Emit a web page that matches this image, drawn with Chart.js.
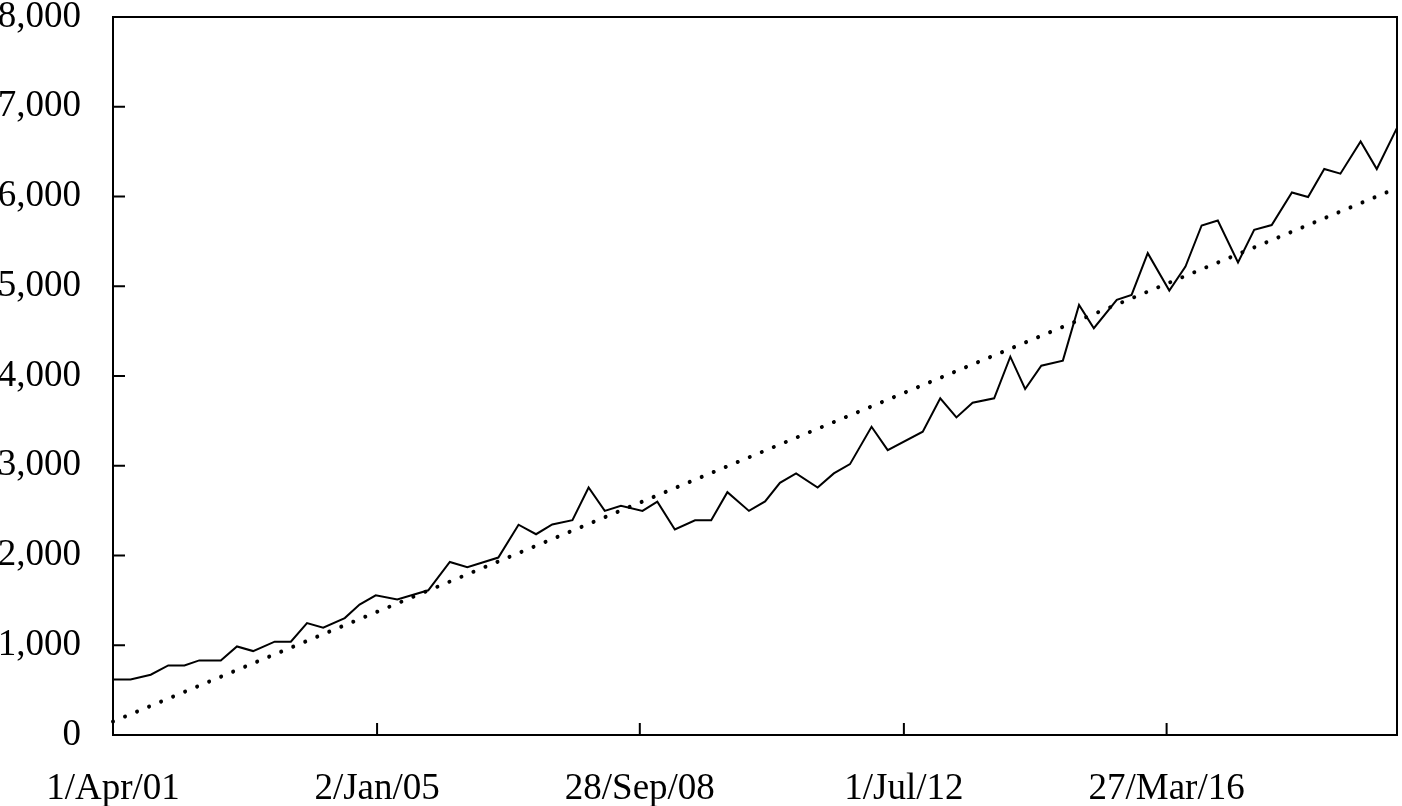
<!DOCTYPE html>
<html>
<head>
<meta charset="utf-8">
<script src="https://cdn.jsdelivr.net/npm/chart.js@4.4.1/dist/chart.umd.min.js"></script>
<style>
  body { margin: 0; background: #fff; }
  #chart { display: block; }
</style>
</head>
<body>
<canvas id="chart" width="1402" height="806"></canvas>
<script>
// x values are weeks after 1 Apr 2001
var weeks = [0, 13, 28, 41, 53, 64, 80, 92, 104, 120, 132, 144, 156, 172, 183, 195,
  211, 234, 250, 263, 286, 301, 314, 326, 341, 353, 365, 377, 393, 404, 417, 432,
  444, 456, 472, 484, 495, 507, 523, 535, 547, 563, 575, 601, 614, 626, 638, 654,
  666, 677, 689, 705, 717, 728, 745, 756, 768, 784, 796, 808, 820, 835, 847, 860,
  875, 887, 899, 911, 926, 938, 953];
var values = [619, 619, 672, 775, 775, 831, 831, 987, 935, 1040, 1040, 1247, 1196, 1303, 1453, 1557,
  1509, 1612, 1928, 1869, 1977, 2343, 2237, 2346, 2393, 2758, 2497, 2553, 2497, 2600, 2290, 2393,
  2393, 2706, 2497, 2602, 2810, 2915, 2758, 2915, 3018, 3434, 3174, 3379, 3751, 3539, 3702, 3751,
  4215, 3855, 4115, 4171, 4792, 4532, 4848, 4904, 5369, 4952, 5220, 5677, 5733, 5264, 5629, 5682,
  6045, 5994, 6306, 6254, 6614, 6306, 6764];

// linear trend, end points
var trendWeeks = [0, 953];
var trendValues = [150, 6094];

var tickWeeks = [0, 196, 391, 587, 782];
var tickLabels = ["1/Apr/01", "2/Jan/05", "28/Sep/08", "1/Jul/12", "27/Mar/16"];

function toPoints(xs, ys) {
  return xs.map(function (x, i) { return { x: x, y: ys[i] }; });
}

// box round the plot + inner tick marks
var frame = {
  id: 'frame',
  afterDraw: function (chart) {
    var ctx = chart.ctx, a = chart.chartArea;
    var sx = chart.scales.x, sy = chart.scales.y;
    ctx.save();
    ctx.strokeStyle = '#000';
    ctx.lineWidth = 2;
    ctx.strokeRect(a.left, a.top, a.right - a.left, a.bottom - a.top);
    ctx.beginPath();
    tickWeeks.forEach(function (w) {
      var px = sx.getPixelForValue(w);
      ctx.moveTo(px, a.bottom);
      ctx.lineTo(px, a.bottom - 12);
    });
    sy.ticks.forEach(function (t) {
      var py = sy.getPixelForValue(t.value);
      ctx.moveTo(a.left, py);
      ctx.lineTo(a.left + 12, py);
    });
    ctx.stroke();
    ctx.restore();
  }
};

var font = { family: '"Liberation Serif", serif', size: 37 };

var ctx = document.getElementById('chart').getContext('2d');
var chart = new Chart(ctx, {
  type: 'line',
  data: {
    datasets: [{
      data: toPoints(weeks, values),
      borderColor: '#000',
      borderWidth: 2,
      pointRadius: 0,
      tension: 0,
      clip: false
    }, {
      data: toPoints(trendWeeks, trendValues),
      borderColor: '#000',
      borderWidth: 4,
      borderDash: [0.01, 13],
      borderCapStyle: 'round',
      pointRadius: 0,
      clip: false
    }]
  },
  options: {
    responsive: false,
    animation: false,
    layout: { padding: { top: 17, right: 5 } },
    plugins: { legend: { display: false }, tooltip: { enabled: false } },
    scales: {
      x: {
        type: 'linear',
        min: 0,
        max: 953,
        grid: { display: false, drawTicks: false },
        border: { display: false },
        afterBuildTicks: function (s) {
          s.ticks = tickWeeks.map(function (v) { return { value: v }; });
        },
        afterFit: function (s) {
          s.height = 71;
          s.paddingLeft = 0;
          s.paddingRight = 0;
        },
        ticks: {
          autoSkip: false,
          maxRotation: 0,
          padding: 32,
          color: '#000',
          font: font,
          callback: function (v, i) { return tickLabels[i]; }
        }
      },
      y: {
        min: 0,
        max: 8000,
        grid: { display: false, drawTicks: false },
        border: { display: false },
        afterFit: function (s) {
          s.width = 113;
          s.paddingTop = 0;
          s.paddingBottom = 0;
        },
        ticks: {
          stepSize: 1000,
          padding: 32,
          color: '#000',
          font: font,
          callback: function (v) { return v.toLocaleString('en-US'); }
        }
      }
    }
  },
  plugins: [frame]
});
</script>
</body>
</html>
